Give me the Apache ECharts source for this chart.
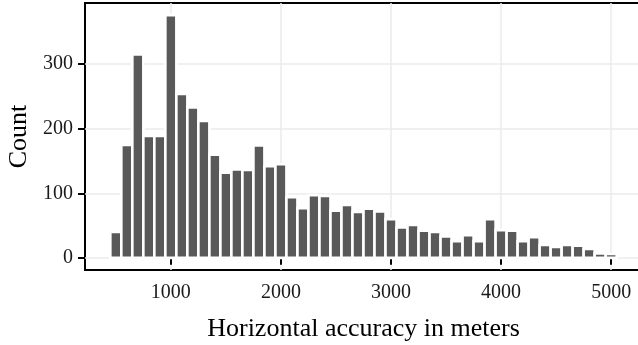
<!DOCTYPE html>
<html>
<head>
<meta charset="utf-8">
<script src="https://cdn.jsdelivr.net/npm/echarts@6/dist/echarts.min.js"></script>
<style>
  html, body { margin: 0; padding: 0; background: #fff; }
  #chart { width: 638px; height: 345px; }
</style>
</head>
<body>
<div id="chart"></div>
<script>
// bin centers (meters), bin width 100
const binCenters = [500, 600, 700, 800, 900, 1000, 1100, 1200, 1300, 1400,
  1500, 1600, 1700, 1800, 1900, 2000, 2100, 2200, 2300, 2400,
  2500, 2600, 2700, 2800, 2900, 3000, 3100, 3200, 3300, 3400,
  3500, 3600, 3700, 3800, 3900, 4000, 4100, 4200, 4300, 4400,
  4500, 4600, 4700, 4800, 4900, 5000];
const counts = [40, 175, 315, 189, 189, 376, 254, 233, 212, 160,
  132, 137, 136, 174, 142, 145, 94, 77, 97, 96,
  73, 82, 71, 76, 72, 60, 47, 51, 42, 40,
  33, 26, 35, 26, 60, 43, 42, 26, 32, 20,
  17, 20, 19, 14, 7, 6];
const binWidth = 100;
const xTicks = [1000, 2000, 3000, 4000, 5000];
const yTicks = [0, 100, 200, 300];

const font = "'Liberation Serif', 'DejaVu Serif', serif";
const chart = echarts.init(document.getElementById("chart"));

chart.setOption({
  animation: false,
  grid: {
    left: 85, right: -4, top: 3, bottom: 75,
    outerBoundsMode: "none",
    containLabel: false,
    show: true, borderColor: "#000", borderWidth: 2, backgroundColor: "#fff"
  },
  xAxis: {
    type: "value",
    min: 220, max: 5280,
    name: "Horizontal accuracy in meters",
    nameLocation: "middle",
    nameGap: 46,
    nameTextStyle: { fontFamily: font, fontSize: 26, color: "#000" },
    axisLine: { show: false },
    axisTick: { show: true, length: 7, lineStyle: { color: "#000", width: 2 }, customValues: xTicks },
    axisLabel: { fontFamily: font, fontSize: 20, color: "#1a1a1a", margin: 13, customValues: xTicks, formatter: (v) => String(v) },
    splitLine: { show: true, lineStyle: { color: "#ebebeb", width: 1.5 } }
  },
  yAxis: {
    type: "value",
    min: -18.8, max: 394.8,
    name: "Count",
    nameLocation: "middle",
    nameGap: 53,
    nameTextStyle: { fontFamily: font, fontSize: 26, color: "#000" },
    axisLine: { show: false },
    axisTick: { show: true, length: 7, lineStyle: { color: "#000", width: 2 }, customValues: yTicks },
    axisLabel: { fontFamily: font, fontSize: 20, color: "#1a1a1a", margin: 12, customValues: yTicks, formatter: (v) => String(v) },
    splitLine: { show: true, lineStyle: { color: "#ebebeb", width: 1.5 } }
  },
  series: [{
    type: "custom",
    data: binCenters.map((c, i) => [c, counts[i]]),
    encode: { x: 0, y: 1 },
    renderItem(params, api) {
      const c = api.value(0);
      const p0 = api.coord([c - binWidth / 2, 0]);
      const p1 = api.coord([c + binWidth / 2, api.value(1)]);
      return {
        type: "rect",
        shape: { x: p0[0], y: p1[1], width: p1[0] - p0[0], height: p0[1] - p1[1] },
        style: { fill: "#595959", stroke: "#fff", lineWidth: 2.6 }
      };
    }
  }]
});
</script>
</body>
</html>
